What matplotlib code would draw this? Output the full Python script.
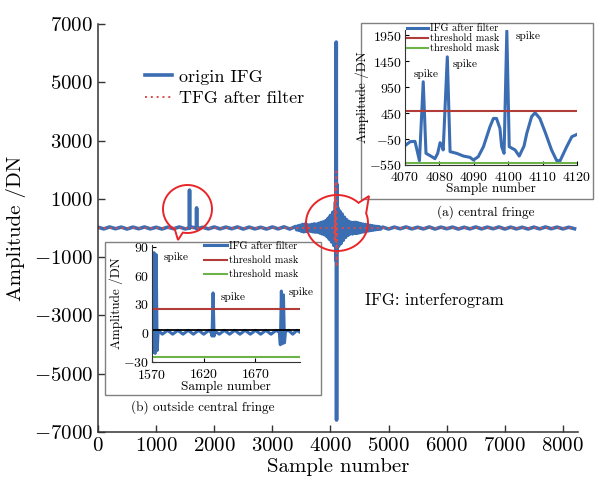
import numpy as np
import matplotlib
matplotlib.use("Agg")
import matplotlib.pyplot as plt
from matplotlib.patches import Rectangle, Polygon
from matplotlib.transforms import Affine2D

plt.rcParams['font.family'] = 'cmr10'
plt.rcParams['mathtext.fontset'] = 'cm'
plt.rcParams['axes.formatter.use_mathtext'] = True
plt.rcParams['axes.unicode_minus'] = False

W, H = 596, 480

# ---- main interferogram ----
noise_left_x = np.arange(0, 3400, 100)
noise_left_y = [25, -30, 35, -25, 30, -35, 30, -25, 35, -30, 25, -35, 30, -25, 35, -30, 30,
                -35, 25, -30, 35, -30, 30, -25, 35, -35, 30, -30, 25, -35, 35, -30, 40, -35]
spike_x = [1574, 1575, 1576, 1696, 1697, 1698]
spike_y = [0, 1300, 0, 0, 690, 0]
burst_left_x = np.arange(3400, 4080, 20)
burst_left_y = [50, -60, 70, -80, 90, -110, 120, -130, 130, -120, 110, -100, 100, -110, 120, -130,
                140, -140, 130, -140, 160, -170, 190, -200, 210, -230, 250, -290, 330, -380,
                430, -480, 540, -600]
center_x = [4088, 4094, 4097, 4100, 4105, 4110, 4116, 4124]
center_y = [900, -1100, 2200, 6380, -6590, 1500, -800, 700]
burst_right_x = np.arange(4140, 4880, 20)
burst_right_y = [-620, 580, -530, 480, -420, 370, -320, 280, -250, 220, -200, 190, -200, 190,
                 -180, 190, -180, 170, -160, 150, -140, 130, -130, 120, -110, 100, -95, 90,
                 -80, 75, -70, 60, -55, 50, -45, 40, -35]
noise_right_x = np.arange(4900, 8300, 100)
noise_right_y = [30, -35, 30, -25, 35, -30, 25, -30, 35, -35, 30, -25, 30, -35, 25, -30, 35,
                 -30, 30, -25, 35, -35, 30, -30, 25, -35, 30, -30, 35, -25, 30, -30, 25, -25]

tfg_x = [0, 4060, 4075, 4076, 4082, 4083, 4090, 4100, 4104, 4115, 8200]
tfg_y = [0, 0, -460, 1050, -120, 1530, -450, 2030, -1340, 0, 0]

# ---- inset (a): central fringe after filter ----
a_x = [4070, 4071.5, 4072.9, 4074.2, 4075.3, 4076.1, 4077.8, 4078.7, 4079.5, 4080.2,
       4080.7, 4081.1, 4082.3, 4083.1, 4085, 4087, 4088.9, 4089.9, 4091.3, 4092.8,
       4094.7, 4095.7, 4096.6, 4097.6, 4098.1, 4098.8, 4099.6, 4100.3, 4102, 4103.2,
       4104.6, 4105.4, 4106.8, 4107.8, 4109.2, 4110.7, 4112.6, 4114.1, 4115.1, 4117,
       4118.5, 4120]
a_y = [-178, -101, -95, -466, 1053, -325, -390, -428, -325, -120,
       -165, -260, 1533, -293, -325, -378, -403, -454, -390, -198,
       187, 347, 347, 155, -198, -325, 2033, -198, -260, -378,
       -185, 59, 380, 456, 347, 91, -260, -466, -466, -198,
       -5, 40]
a_upper, a_lower = 490, -520
a_spikes = [(4072.4, 1200), (4083.9, 1392), (4102.3, 1937)]

# ---- inset (b): outside central fringe ----
b_x = [1570, 1571, 1572, 1573, 1574, 1575, 1576, 1580, 1585, 1590, 1595, 1600, 1605,
       1610, 1615, 1620, 1625, 1627, 1628, 1629, 1630, 1631, 1635, 1640, 1645, 1650,
       1655, 1660, 1665, 1670, 1675, 1680, 1685, 1690, 1693, 1694, 1695, 1696, 1697,
       1698, 1699, 1702, 1706, 1710, 1713]
b_y = [2, -20, 84, -21, 82, -18, 3, -1, 3, -1, 3, -1, 3,
       -1, 3, -1, 3, 1, -3, 42, -3, 2, -1, 3, -1, 3,
       -1, 3, -1, 3, -1, 3, -1, 3, 1, -12, 44, -11, 40,
       -10, 2, 3, -1, 3, 1]
b_mean = 3.5
b_upper, b_lower = 25, -25
b_spikes = [(1581, 80), (1636, 38), (1702, 43)]

blue = '#3b6db2'
red_dot = '#e04848'
mask_red = '#b23c3a'
mask_green = '#6db34a'

fig = plt.figure(figsize=(W / 100, H / 100), dpi=100)
px = Affine2D().scale(1 / W, 1 / H) + fig.transFigure

ax = fig.add_axes([98 / W, 48 / H, 480 / W, 408 / H])
ifg_x = np.concatenate([noise_left_x, spike_x, burst_left_x, center_x, burst_right_x, noise_right_x])
ifg_y = np.concatenate([noise_left_y, spike_y, burst_left_y, center_y, burst_right_y, noise_right_y])
order = np.argsort(ifg_x, kind='stable')
ax.plot(ifg_x[order], ifg_y[order], color=blue, lw=2.6, label='origin IFG')
ax.plot(tfg_x, tfg_y, color=red_dot, lw=1.4, ls=(0, (1, 2)), label='TFG after filter')
ax.set_xlim(0, 8260)
ax.set_ylim(-7000, 7000)
ax.set_xticks(range(0, 8001, 1000))
ax.set_yticks(range(-7000, 7001, 2000))
for s in ['top', 'right']:
    ax.spines[s].set_visible(False)
for s in ['left', 'bottom']:
    ax.spines[s].set_color('#333333')
    ax.spines[s].set_linewidth(1.1)
ax.tick_params(direction='in', length=5, width=1, labelsize=15, color='#333333')
ax.set_xlabel('Sample number', fontsize=15, labelpad=2)
ax.set_ylabel('Amplitude /DN', fontsize=15, labelpad=6)
ax.legend(loc='upper left', bbox_to_anchor=(0.098, 0.89), frameon=False, fontsize=13,
          borderpad=0, borderaxespad=0, handlelength=1.5, handletextpad=0.4,
          labelspacing=0.35)
ax.text(4600, -2480, 'IFG: interferogram', fontsize=12, va='center')

# frames around the two insets
for x0, y0, w, h in [(361, 281, 232, 176), (105, 85, 216, 153)]:
    fig.patches.append(Rectangle((x0, y0), w, h, transform=px, facecolor='white',
                                 edgecolor='#808080', lw=1.0, zorder=1))
fig.text(486 / W, 268 / H, '(a) central fringe', fontsize=9.5, ha='center', va='center')
fig.text(203 / W, 73 / H, '(b) outside central fringe', fontsize=9.5, ha='center', va='center')


def style_inset(iax):
    iax.set_zorder(2)
    iax.patch.set_alpha(0)
    for s in ['top', 'right']:
        iax.spines[s].set_visible(False)
    for s in ['left', 'bottom']:
        iax.spines[s].set_color('#333333')
    iax.tick_params(direction='in', length=3, width=0.8, labelsize=10, pad=2)
    iax.tick_params(axis='x', pad=4)


axa = fig.add_axes([405 / W, 315 / H, 172 / W, 135 / H])
style_inset(axa)
axa.plot(a_x, a_y, color=blue, lw=2.2, label='IFG after filter')
axa.axhline(a_upper, color=mask_red, lw=1.5, label='threshold mask')
axa.axhline(a_lower, color=mask_green, lw=1.5, label='threshold mask')
axa.set_xlim(4070, 4120)
axa.set_ylim(-550, 2050)
axa.set_xticks(range(4070, 4121, 10))
axa.set_yticks(range(-550, 1951, 500))
axa.set_xlabel('Sample number', fontsize=9.5, labelpad=-1)
axa.set_ylabel('Amplitude /DN', fontsize=9.5, labelpad=0)
for sx, sy in a_spikes:
    axa.text(sx, sy, 'spike', fontsize=8.2, va='center')
axa.legend(loc='upper left', bbox_to_anchor=(0.012, 1.045), frameon=False, fontsize=7.5,
           borderpad=0, borderaxespad=0, handlelength=2.0, handletextpad=0.2,
           labelspacing=0.05)

axb = fig.add_axes([152 / W, 118 / H, 148 / W, 117 / H])
style_inset(axb)
axb.plot(b_x, b_y, color=blue, lw=2.2, label='IFG after filter')
axb.axhline(b_upper, color=mask_red, lw=1.5, label='threshold mask')
axb.axhline(b_lower, color=mask_green, lw=1.5, label='threshold mask')
axb.axhline(b_mean, color='black', lw=1.3)
axb.set_xlim(1570, 1713)
axb.set_ylim(-30, 92)
axb.set_xticks([1570, 1620, 1670])
axb.set_yticks(range(-30, 91, 30))
axb.set_xlabel('Sample number', fontsize=9.5, labelpad=-1)
axb.set_ylabel('Amplitude /DN', fontsize=9.5, labelpad=0)
for sx, sy in b_spikes:
    axb.text(sx, sy, 'spike', fontsize=8.2, va='center', clip_on=False)
handles, labels = axb.get_legend_handles_labels()
axb.legend(handles[:3], labels[:3], loc='upper left', bbox_to_anchor=(0.35, 1.03),
           frameon=False, fontsize=7.5, borderpad=0, borderaxespad=0, handlelength=2.2,
           handletextpad=0.2, labelspacing=0.45)


# red speech-bubble markers
def bubble(cx, cy, rx, ry, gap0, gap1, tip):
    t = np.radians(np.linspace(gap1, gap0 + 360, 80))
    pts = np.column_stack([cx + rx * np.cos(t), cy + ry * np.sin(t)])
    pts = np.vstack([pts, tip])
    fig.patches.append(Polygon(pts, closed=True, fill=False, edgecolor='#e8262a',
                               lw=1.4, transform=px, zorder=3))


bubble(187.5, 271, 24.5, 24, 239, 259, (178, 240))
bubble(337, 257, 31, 28, 20, 46, (369, 284))

fig.savefig('out.png', dpi=100)
